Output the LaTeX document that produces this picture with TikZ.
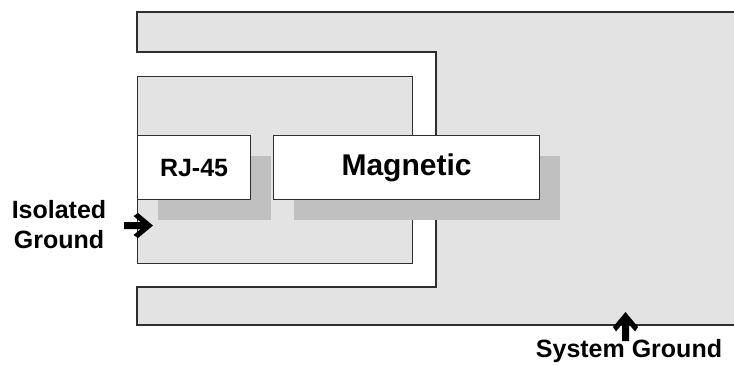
\documentclass[tikz,border=0pt]{standalone}
\usepackage{fontspec}
\setmainfont{Liberation Sans}
\usetikzlibrary{shadows}
\definecolor{panel}{HTML}{E3E3E3}
\definecolor{shade}{HTML}{C0C0C0}
\definecolor{edge}{HTML}{2E2E2E}
\tikzset{
  gndarrow/.pic={
    \fill[black] (0,0) -- (-15,-12.5) -- (-19.5,-9.5) -- (-12.3,-3.5) -- (-29,-3.5)
      -- (-29,3.5) -- (-12.3,3.5) -- (-19.5,9.5) -- (-15,12.5) -- cycle;
  }
}
\begin{document}
\begin{tikzpicture}[x=1pt,y=-1pt,
  outline/.style={draw=edge,line width=1.1pt,line join=miter},
  unitbox/.style={outline,fill=white,anchor=north west,inner sep=0pt,
    drop shadow={shadow xshift=20pt,shadow yshift=-20pt,fill=shade,opacity=1,draw=none}},
  label/.style={font=\fontsize{25}{30}\selectfont\bfseries,align=center,inner sep=0pt}]
\useasboundingbox (0,0) rectangle (734,365);

% system ground plane, open towards the left
\fill[panel] (740,12) -- (137,12) -- (137,52) -- (436,52) -- (436,287)
  -- (137,287) -- (137,325) -- (740,325) -- cycle;
\draw[outline] (740,12) -- (137,12) -- (137,52) -- (436,52) -- (436,287)
  -- (137,287) -- (137,325) -- (740,325);

% isolated ground plane
\node[outline,fill=panel,anchor=north west,inner sep=0pt,
  minimum width=275pt,minimum height=187pt] (iso) at (137,76) {};

% components
\node[unitbox,minimum width=113pt,minimum height=64pt,
  font=\fontsize{25}{30}\selectfont\bfseries] (rj) at (137,135) {RJ-45};
\node[unitbox,minimum width=266pt,minimum height=64pt,
  font=\fontsize{30}{36}\selectfont\bfseries] (mag) at (273,135) {Magnetic};

% ground markers and their labels
\pic at (153,225.5) {gndarrow};
\pic[rotate=90] at (625.5,312) {gndarrow};
\node[label] (isolabel) at (59,225) {Isolated\\Ground};
\node[label,anchor=base] (syslabel) at (629,357) {System Ground};
\end{tikzpicture}
\end{document}
